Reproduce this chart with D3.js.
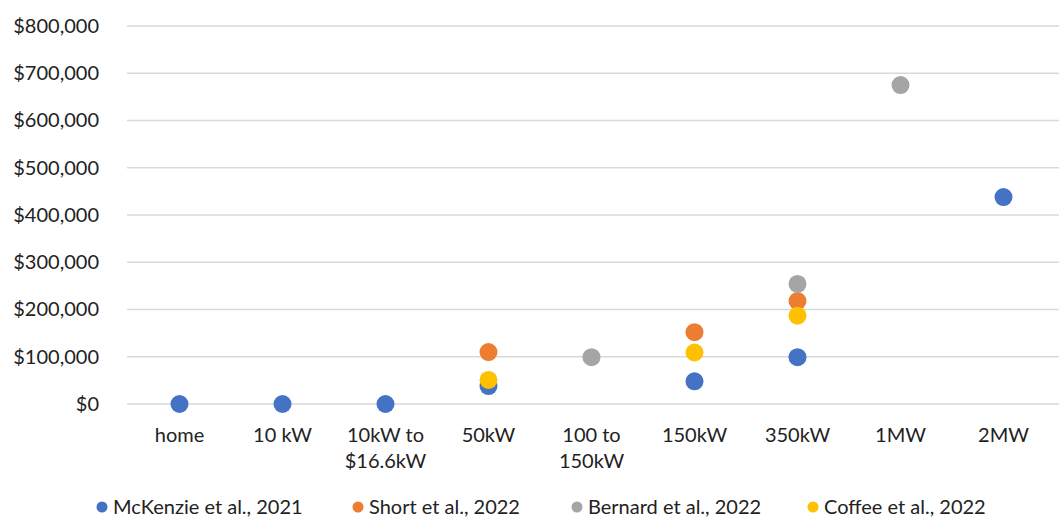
<!DOCTYPE html>
<html>
<head>
<meta charset="utf-8">
<script src="https://cdn.jsdelivr.net/npm/d3@7"></script>
<style>
  html, body { margin: 0; padding: 0; background: #fff; }
  svg text { font-family: Lato, "Open Sans", sans-serif; fill: #222; }
</style>
</head>
<body>
<svg id="chart" width="1059" height="519"></svg>
<script>
// Charger capacity classes along the x axis
const categories = ["home", "10 kW", "10kW to $16.6kW", "50kW", "100 to 150kW", "150kW", "350kW", "1MW", "2MW"];
// Axis label lines for each class (wrapped)
const categoryLabels = [["home"], ["10 kW"], ["10kW to", "$16.6kW"], ["50kW"], ["100 to", "150kW"], ["150kW"], ["350kW"], ["1MW"], ["2MW"]];

// Installed cost (USD) by source; null = no estimate for that class
const mckenzie2021 = [0, 0, 0, 38000, null, 48000, 99000, null, 438000];
const short2022    = [null, null, null, 110000, null, 152000, 218000, null, null];
const bernard2022  = [null, null, null, null, 99000, null, 254000, 675000, null];
const coffee2022   = [null, null, null, 51000, null, 109000, 187000, null, null];

const seriesNames  = ["McKenzie et al., 2021", "Short et al., 2022", "Bernard et al., 2022", "Coffee et al., 2022"];
const seriesColors = ["#4472C4", "#ED7D31", "#A5A5A5", "#FFC000"];
const yTicks = [0, 100000, 200000, 300000, 400000, 500000, 600000, 700000, 800000];

const series = [mckenzie2021, short2022, bernard2022, coffee2022].map((vals, i) => ({
  name: seriesNames[i], color: seriesColors[i], values: vals
}));

const svg = d3.select("#chart");
const W = 1059;
const plot = { left: 128, right: 1055, top: 26, bottom: 404 };

const x = d3.scaleBand().domain(categories).range([plot.left, plot.right]);
const y = d3.scaleLinear().domain([0, 800000]).range([plot.bottom, plot.top]);
const fmt = v => "$" + d3.format(",")(v);

// Horizontal gridlines
svg.append("g")
  .selectAll("line").data(yTicks).join("line")
  .attr("x1", plot.left - 1).attr("x2", W)
  .attr("y1", d => y(d)).attr("y2", d => y(d))
  .attr("stroke", "#D9D9D9").attr("stroke-width", 1.3);

// Y axis labels
const yAxis = d3.axisLeft(y).tickValues(yTicks).tickFormat(fmt).tickSize(0).tickPadding(0);
const gy = svg.append("g").attr("transform", "translate(99,0)").call(yAxis);
gy.select(".domain").remove();
gy.selectAll("text").attr("font-size", 20).attr("fill", "#222")
  .style("font-family", "Lato, 'Open Sans', sans-serif");

// X axis labels (multi-line)
const xAxis = d3.axisBottom(x).tickSize(0).tickFormat("");
const gx = svg.append("g").attr("transform", `translate(0,${plot.bottom})`).call(xAxis);
gx.select(".domain").remove();
gx.selectAll(".tick").each(function(d, i) {
  const t = d3.select(this).append("text")
    .attr("text-anchor", "middle").attr("font-size", 20).attr("fill", "#222")
    .style("font-family", "Lato, 'Open Sans', sans-serif");
  categoryLabels[i].forEach((line, j) => {
    t.append("tspan").attr("x", 0).attr("y", 38 + j * 26).text(line);
  });
});

// Markers
series.forEach(s => {
  svg.append("g")
    .selectAll("circle")
    .data(s.values.map((v, i) => ({ cat: categories[i], v })).filter(d => d.v !== null))
    .join("circle")
    .attr("cx", d => x(d.cat) + x.bandwidth() / 2)
    .attr("cy", d => y(d.v))
    .attr("r", 9)
    .attr("fill", s.color);
});

// Legend
const legendX = [102, 358, 577, 813];
const legend = svg.append("g").attr("transform", "translate(0,507)");
series.forEach((s, i) => {
  const g = legend.append("g").attr("transform", `translate(${legendX[i]},0)`);
  g.append("circle").attr("r", 5.5).attr("fill", s.color);
  g.append("text").attr("x", 11).attr("y", 7).attr("font-size", 20).text(s.name);
});
</script>
</body>
</html>
